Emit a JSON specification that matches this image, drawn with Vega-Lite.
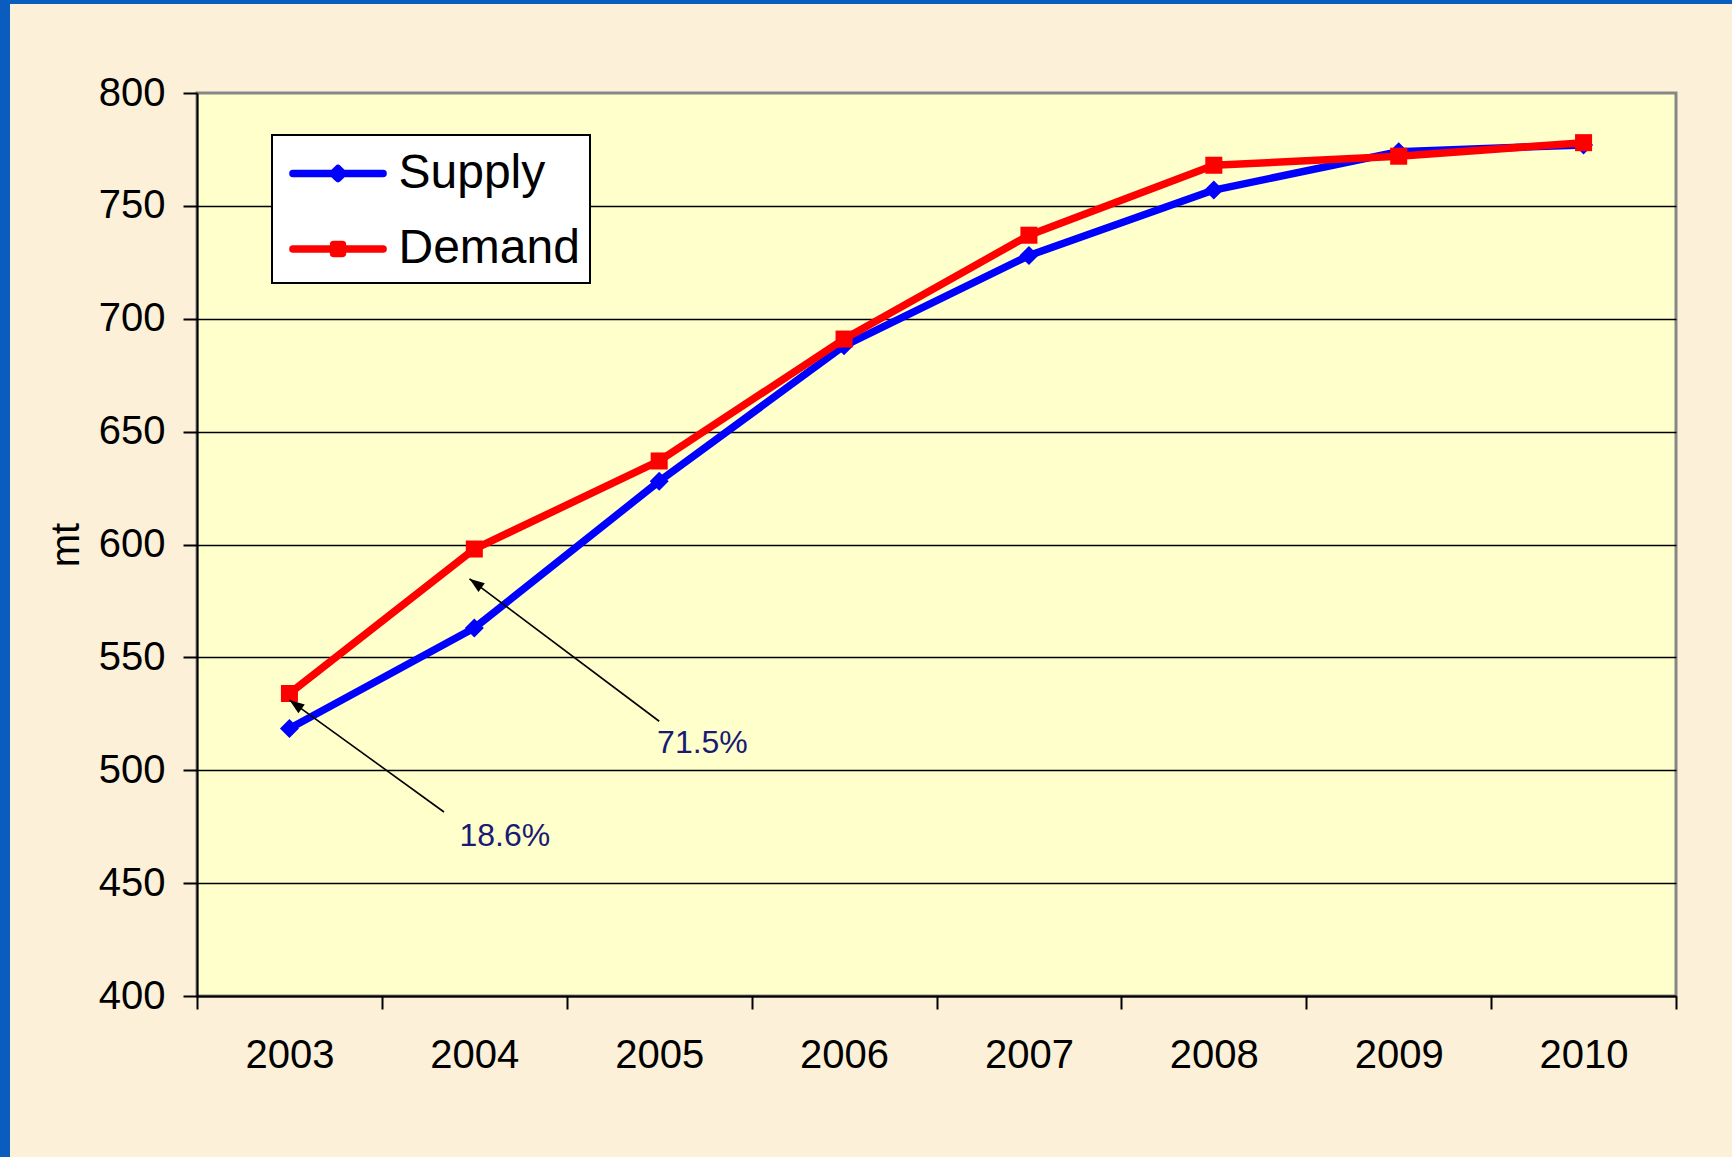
{
  "$schema": "https://vega.github.io/schema/vega-lite/v6.json",
  "background": "#fcf0d8",
  "padding": 0,
  "spacing": 0,
  "bounds": "flush",
  "config": {
    "view": {"stroke": null},
    "font": "Liberation Sans"
  },
  "datasets": {
    "series": [
      {"year": "2003", "series": "Supply", "value": 518.5},
      {"year": "2004", "series": "Supply", "value": 563},
      {"year": "2005", "series": "Supply", "value": 628},
      {"year": "2006", "series": "Supply", "value": 688},
      {"year": "2007", "series": "Supply", "value": 728},
      {"year": "2008", "series": "Supply", "value": 757},
      {"year": "2009", "series": "Supply", "value": 774},
      {"year": "2010", "series": "Supply", "value": 777},
      {"year": "2003", "series": "Demand", "value": 534},
      {"year": "2004", "series": "Demand", "value": 598},
      {"year": "2005", "series": "Demand", "value": 637},
      {"year": "2006", "series": "Demand", "value": 691},
      {"year": "2007", "series": "Demand", "value": 737},
      {"year": "2008", "series": "Demand", "value": 768},
      {"year": "2009", "series": "Demand", "value": 772},
      {"year": "2010", "series": "Demand", "value": 778}
    ],
    "notes": [
      {"label": "18.6%", "tx": 2004.165, "ty": 470.8, "sx": 2003.836, "sy": 481.5, "ex": 2003.0, "ey": 531.1},
      {"label": "71.5%", "tx": 2005.234, "ty": 511.9, "sx": 2005.0, "sy": 521.7, "ex": 2003.974, "ey": 584.8}
    ],
    "empty": []
  },
  "hconcat": [
    {
      "width": 10,
      "height": 1157,
      "view": {"fill": "#0a5cbf", "stroke": null},
      "data": {"name": "empty"},
      "mark": "rect",
      "encoding": {}
    },
    {
      "spacing": 89,
      "bounds": "flush",
      "vconcat": [
        {
          "width": 1722,
          "height": 4,
          "view": {"fill": "#0a5cbf", "stroke": null},
          "data": {"name": "empty"},
          "mark": "rect",
          "encoding": {}
        },
        {
          "spacing": 0,
          "bounds": "flush",
          "hconcat": [
            {
              "width": 187,
              "height": 1,
              "view": {"stroke": null},
              "data": {"name": "empty"},
              "mark": "rect",
              "encoding": {}
            },
            {
              "width": 1479,
              "height": 903,
              "view": {"fill": "#ffffcc", "stroke": "#878787", "strokeWidth": 3},
              "resolve": {"scale": {"x": "independent"}, "axis": {"x": "independent"}},
              "layer": [
                {
                  "data": {"name": "series"},
                  "encoding": {
                    "x": {
                      "field": "year", "type": "ordinal",
                      "scale": {"type": "band", "paddingInner": 0, "paddingOuter": 0},
                      "axis": {
                        "title": null, "tickBand": "extent", "labelAngle": 0,
                        "labelFont": "Liberation Sans", "labelFontSize": 40, "labelColor": "#000000",
                        "labelPadding": 26, "tickSize": 13, "tickWidth": 2, "tickColor": "#000000",
                        "domainColor": "#000000", "domainWidth": 2, "grid": false
                      }
                    },
                    "y": {
                      "field": "value", "type": "quantitative",
                      "scale": {"domain": [400, 800], "nice": false, "zero": false},
                      "axis": {
                        "values": [400, 450, 500, 550, 600, 650, 700, 750, 800],
                        "title": "mt", "titleFont": "Liberation Sans", "titleFontSize": 40,
                        "titleFontWeight": "normal", "titleColor": "#000000", "titlePadding": 12,
                        "labelFont": "Liberation Sans", "labelFontSize": 40, "labelColor": "#000000",
                        "labelPadding": 18, "tickSize": 14, "tickWidth": 2, "tickColor": "#000000",
                        "domainColor": "#000000", "domainWidth": 2,
                        "grid": true, "gridColor": "#000000", "gridWidth": 1.5,
                        "gridOpacity": {"condition": {"test": "datum.value === 800", "value": 0}, "value": 1}
                      }
                    },
                    "color": {
                      "field": "series", "type": "nominal",
                      "scale": {"domain": ["Supply", "Demand"], "range": ["#0000ff", "#ff0000"]},
                      "legend": {
                        "orient": "none", "legendX": 272, "legendY": 135, "title": null,
                        "fillColor": "#ffffff", "strokeColor": "#000000", "padding": 10,
                        "labelFont": "Liberation Sans", "labelFontSize": 48, "labelColor": "#000000",
                        "labelLimit": 400, "symbolSize": 2401, "symbolStrokeWidth": 7,
                        "symbolOffset": 27.5, "labelOffset": 32, "rowPadding": 22.5,
                        "encode": {
                          "legend": {"update": {"strokeWidth": {"value": 2}}},
                          "symbols": {
                            "update": {
                              "shape": {"signal": "datum.value === 'Supply' ? 'M-1.84,0L1.84,0M0,-0.2L0.2,0L0,0.2L-0.2,0Z' : 'M-1.84,0L1.84,0M-0.18,-0.18L0.18,-0.18L0.18,0.18L-0.18,0.18Z'"},
                              "fill": {"signal": "datum.value === 'Supply' ? '#0000ff' : '#ff0000'"},
                              "stroke": {"signal": "datum.value === 'Supply' ? '#0000ff' : '#ff0000'"},
                              "strokeWidth": {"value": 7.5},
                              "strokeCap": {"value": "round"},
                              "strokeJoin": {"value": "round"},
                              "size": {"value": 2401},
                              "opacity": {"value": 1},
                              "fillOpacity": {"value": 1},
                              "strokeOpacity": {"value": 1}
                            }
                          }
                        }
                      }
                    }
                  },
                  "layer": [
                    {
                      "transform": [{"filter": "datum.series === 'Supply'"}],
                      "mark": {"type": "line", "strokeWidth": 7.5, "strokeJoin": "round", "strokeCap": "round"}
                    },
                    {
                      "transform": [{"filter": "datum.series === 'Supply'"}],
                      "mark": {"type": "point", "shape": "diamond", "filled": true, "size": 360, "opacity": 1, "strokeWidth": 0}
                    },
                    {
                      "transform": [{"filter": "datum.series === 'Demand'"}],
                      "mark": {"type": "line", "strokeWidth": 7.5, "strokeJoin": "round", "strokeCap": "round"}
                    },
                    {
                      "transform": [{"filter": "datum.series === 'Demand'"}],
                      "mark": {"type": "point", "shape": "square", "filled": true, "size": 290, "opacity": 1, "strokeWidth": 0}
                    }
                  ]
                },
                {
                  "data": {"name": "notes"},
                  "layer": [
                    {
                      "mark": {"type": "rule", "color": "#000000", "strokeWidth": 1.6},
                      "encoding": {
                        "x": {"field": "sx", "type": "quantitative", "scale": {"domain": [2002.5, 2010.5], "nice": false, "zero": false}, "axis": null},
                        "y": {"field": "sy", "type": "quantitative"},
                        "x2": {"field": "ex"},
                        "y2": {"field": "ey"}
                      }
                    },
                    {
                      "mark": {"type": "point", "shape": "M0,0L-0.36,1L0.36,1Z", "filled": true, "color": "#000000", "size": 900, "angle": 306, "opacity": 1, "strokeWidth": 0},
                      "encoding": {
                        "x": {"field": "ex", "type": "quantitative", "scale": {"domain": [2002.5, 2010.5], "nice": false, "zero": false}, "axis": null},
                        "y": {"field": "ey", "type": "quantitative"}
                      }
                    },
                    {
                      "mark": {"type": "text", "font": "Liberation Sans Narrow, Liberation Sans", "fontSize": 32, "color": "#1a1a75", "align": "center", "baseline": "middle"},
                      "encoding": {
                        "x": {"field": "tx", "type": "quantitative", "scale": {"domain": [2002.5, 2010.5], "nice": false, "zero": false}, "axis": null},
                        "y": {"field": "ty", "type": "quantitative"},
                        "text": {"field": "label"}
                      }
                    }
                  ]
                }
              ]
            }
          ]
        }
      ]
    }
  ]
}
